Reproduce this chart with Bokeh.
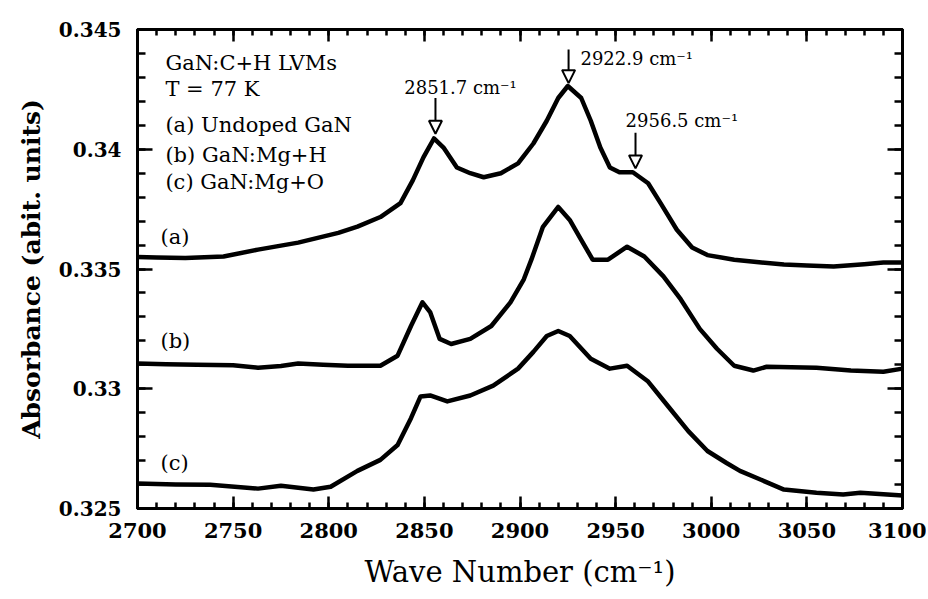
from bokeh.plotting import figure
from bokeh.models import (FixedTicker, LinearAxis, Range1d, CustomJSTickFormatter,
                          Arrow, NormalHead, Label)
from bokeh.embed import file_html
from bokeh.resources import INLINE

# ---------------- data ----------------
wn_a = [2700, 2710, 2725, 2745, 2763, 2784, 2805, 2815, 2827, 2837.5, 2844, 2849.5, 2855,
        2860, 2867, 2874, 2881, 2890, 2899, 2907, 2914, 2920, 2925, 2932, 2937, 2942,
        2947, 2952, 2959, 2967, 2973.5, 2982, 2990, 2998, 3012, 3025, 3038, 3050, 3064,
        3080, 3090, 3100]
abs_a = [0.33550, 0.33548, 0.33546, 0.33552, 0.33581, 0.33610, 0.33651, 0.33677, 0.33717,
         0.33775, 0.33871, 0.33966, 0.34045, 0.34007, 0.33924, 0.33900, 0.33883, 0.33900,
         0.33941, 0.34024, 0.34119, 0.34214, 0.34264, 0.34214, 0.34119, 0.34007, 0.33924,
         0.33904, 0.33904, 0.33858, 0.33775, 0.33664, 0.33590, 0.33558, 0.33539, 0.33528,
         0.33519, 0.33515, 0.33510, 0.33520, 0.33527, 0.33527]

wn_b = [2700, 2715, 2731, 2750, 2763, 2775, 2784, 2797, 2810, 2827, 2836, 2843, 2849,
        2853, 2858, 2864, 2874, 2885, 2895, 2902, 2906, 2912, 2920, 2926, 2932, 2938,
        2946, 2956, 2965, 2975, 2984, 2994, 3003, 3012, 3022, 3029, 3055, 3073, 3090, 3100]
abs_b = [0.33105, 0.33102, 0.33100, 0.33098, 0.33088, 0.33095, 0.33105, 0.33100, 0.33096,
         0.33096, 0.33138, 0.33262, 0.33361, 0.33320, 0.33208, 0.33187, 0.33208, 0.33262,
         0.33361, 0.33457, 0.33540, 0.33676, 0.33759, 0.33705, 0.33622, 0.33539, 0.33539,
         0.33593, 0.33552, 0.33469, 0.33374, 0.33250, 0.33167, 0.33096, 0.33076, 0.33092,
         0.33088, 0.33076, 0.33071, 0.33084]

wn_c = [2700, 2720, 2738, 2763, 2775, 2792, 2801, 2815, 2827, 2836, 2843, 2848, 2853,
        2862, 2874, 2886, 2899, 2907, 2914, 2920, 2926, 2937, 2947, 2956, 2967, 2977,
        2988, 2998, 3008, 3015, 3026, 3038, 3055, 3069, 3078, 3100]
abs_c = [0.32604, 0.32600, 0.32599, 0.32583, 0.32595, 0.32579, 0.32591, 0.32657, 0.32703,
         0.32765, 0.32877, 0.32968, 0.32972, 0.32947, 0.32972, 0.33013, 0.33084, 0.33154,
         0.33220, 0.33241, 0.33220, 0.33125, 0.33084, 0.33096, 0.33030, 0.32931, 0.32823,
         0.32740, 0.32690, 0.32657, 0.32620, 0.32579, 0.32566, 0.32558, 0.32566, 0.32554]

x_ticks = [2700, 2750, 2800, 2850, 2900, 2950, 3000, 3050, 3100]
y_ticks = [0.325, 0.33, 0.335, 0.34, 0.345]
x_minor = list(range(2700, 3101, 10))
y_minor = [0.325 + 0.001 * i for i in range(21)]

info_lines = ["GaN:C+H  LVMs", "T = 77 K", "(a) Undoped GaN", "(b) GaN:Mg+H", "(c) GaN:Mg+O"]
info_y = [0.34359, 0.34252, 0.34100, 0.33976, 0.33862]

curve_tags = ["(a)", "(b)", "(c)"]
curve_tag_y = [0.33635, 0.33200, 0.32690]

peak_labels = ["2851.7 cm\u207b\u00b9", "2922.9 cm\u207b\u00b9", "2956.5 cm\u207b\u00b9"]
arrow_x = [2855.8, 2925.4, 2960.4]
arrow_top = [0.34214, 0.34417, 0.34069]
arrow_tip = [0.34065, 0.34276, 0.33920]
peak_label_x = [2868.9, 2931.6, 2955.2]
peak_label_y = [0.34256, 0.34380, 0.34119]
peak_label_align = ["center", "left", "left"]

SERIF = "DejaVu Serif"

# ---------------- figure ----------------
p = figure(width=926, height=591, x_range=Range1d(2700, 3100), y_range=Range1d(0.325, 0.345),
           output_backend="svg", toolbar_location=None,
           min_border_left=137, min_border_right=24, min_border_top=29, min_border_bottom=80)
p.xgrid.visible = False
p.ygrid.visible = False
p.outline_line_color = "black"
p.outline_line_width = 3
p.background_fill_color = "white"
p.border_fill_color = "white"

for (xs, ys) in [(wn_a, abs_a), (wn_b, abs_b), (wn_c, abs_c)]:
    p.line(xs, ys, line_color="black", line_width=4.5, line_join="round", line_cap="round")

ytick_fmt = CustomJSTickFormatter(code="return tick.toFixed(3).replace(/0$/, '');")
blank_fmt = CustomJSTickFormatter(code="return '';")

xa = p.xaxis[0]
xa.ticker = FixedTicker(ticks=x_ticks, minor_ticks=x_minor)
ya = p.yaxis[0]
ya.ticker = FixedTicker(ticks=y_ticks, minor_ticks=y_minor)
ya.formatter = ytick_fmt

for ax in (xa, ya):
    ax.axis_line_width = 3
    ax.major_tick_line_width = 2.5
    ax.minor_tick_line_width = 2.5
    ax.major_tick_out = 0
    ax.minor_tick_out = 0
    ax.major_label_text_font = SERIF
    ax.major_label_text_font_style = "bold"
    ax.major_label_text_color = "black"
    ax.axis_label_text_color = "black"
    ax.axis_label_text_font = SERIF

xa.major_tick_in = 12
xa.minor_tick_in = 6
ya.major_tick_in = 15
ya.minor_tick_in = 8
xa.major_label_text_font_size = "21px"
ya.major_label_text_font_size = "20px"
xa.major_label_standoff = 14
ya.major_label_standoff = 16
xa.axis_label = "Wave Number (cm\u207b\u00b9)"
xa.axis_label_text_font_size = "29px"
xa.axis_label_text_font_style = "normal"
xa.axis_label_standoff = 14
ya.axis_label = "Absorbance (abit. units)"
ya.axis_label_text_font_size = "25px"
ya.axis_label_text_font_style = "bold"
ya.axis_label_standoff = 10

top = LinearAxis(ticker=FixedTicker(ticks=x_ticks, minor_ticks=x_minor), formatter=blank_fmt)
right = LinearAxis(ticker=FixedTicker(ticks=y_ticks, minor_ticks=y_minor), formatter=blank_fmt)
for ax, tin, mtin in ((top, 12, 6), (right, 15, 8)):
    ax.axis_line_width = 3
    ax.major_tick_line_width = 2.5
    ax.minor_tick_line_width = 2.5
    ax.major_tick_out = 0
    ax.minor_tick_out = 0
    ax.major_tick_in = tin
    ax.minor_tick_in = mtin
    ax.major_label_standoff = 0
    ax.major_label_text_font_size = "1px"
p.add_layout(top, "above")
p.add_layout(right, "right")

# info block
for txt, yy in zip(info_lines, info_y):
    p.add_layout(Label(x=2714.6, y=yy, text=txt, text_font=SERIF, text_font_size="21px",
                       text_baseline="middle", text_align="left", text_color="black"))

# curve tags
for txt, yy in zip(curve_tags, curve_tag_y):
    p.add_layout(Label(x=2712, y=yy, text=txt, text_font=SERIF, text_font_size="21px",
                       text_baseline="middle", text_align="left", text_color="black"))

# peak arrows and labels
for xs, yt, ye in zip(arrow_x, arrow_top, arrow_tip):
    p.add_layout(Arrow(end=NormalHead(size=13, fill_color="white", line_color="black", line_width=2),
                       x_start=xs, y_start=yt, x_end=xs, y_end=ye,
                       line_color="black", line_width=2))
for txt, lx, ly, al in zip(peak_labels, peak_label_x, peak_label_y, peak_label_align):
    p.add_layout(Label(x=lx, y=ly, text=txt, text_font=SERIF, text_font_size="18px",
                       text_baseline="middle", text_align=al, text_color="black"))

open("out.html", "w").write(file_html(p, INLINE))
